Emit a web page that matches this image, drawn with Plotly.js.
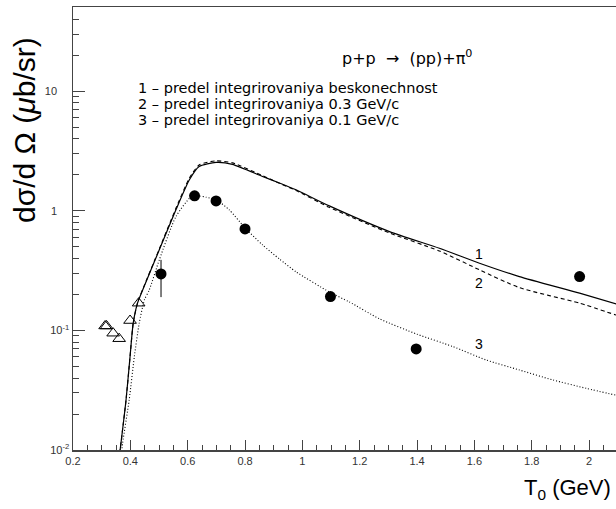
<!DOCTYPE html>
<html>
<head>
<meta charset="utf-8">
<script src="https://cdn.plot.ly/plotly-3.0.1.min.js"></script>
<style>
html,body{margin:0;padding:0;background:#fff;}
#chart{width:616px;height:509px;}
</style>
</head>
<body>
<div id="chart"></div>
<script>
// ---- data ----
// theory curves 1 and 2 share the T0 grid
const t12 = [0.360, 0.385, 0.399, 0.410, 0.425, 0.443, 0.501, 0.559, 0.606, 0.640, 0.699, 0.756, 0.861, 0.920, 0.978, 1.094, 1.304, 1.478, 1.618, 1.757, 1.967, 2.100];
const curve1 = [0.0082, 0.0262, 0.0604, 0.115, 0.169, 0.218, 0.472, 1.02, 1.82, 2.35, 2.54, 2.45, 1.94, 1.71, 1.50, 1.10, 0.671, 0.487, 0.365, 0.282, 0.205, 0.165];
const curve2 = [0.0082, 0.0262, 0.0604, 0.115, 0.170, 0.220, 0.480, 1.05, 1.88, 2.42, 2.62, 2.52, 1.97, 1.70, 1.48, 1.07, 0.653, 0.462, 0.321, 0.228, 0.169, 0.133];
const t3 = [0.366, 0.373, 0.396, 0.414, 0.431, 0.449, 0.466, 0.501, 0.559, 0.611, 0.640, 0.664, 0.699, 0.745, 0.800, 0.861, 0.920, 0.978, 1.094, 1.164, 1.269, 1.400, 1.525, 1.641, 1.757, 1.874, 1.990, 2.100];
const curve3 = [0.0082, 0.0114, 0.0262, 0.0604, 0.115, 0.180, 0.218, 0.389, 0.895, 1.30, 1.33, 1.30, 1.24, 1.02, 0.721, 0.519, 0.396, 0.309, 0.210, 0.173, 0.125, 0.093, 0.0733, 0.0566, 0.0467, 0.0385, 0.0328, 0.0285];

// experimental points: filled circles
const circT = [0.507, 0.624, 0.699, 0.800, 1.098, 1.397, 1.967];
const circV = [0.297, 1.335, 1.21, 0.706, 0.192, 0.070, 0.282];
const circErrUp = [0.092, 0, 0, 0, 0, 0, 0];
const circErrDn = [0.107, 0, 0, 0, 0, 0, 0];
// open triangles
const triT = [0.312, 0.317, 0.340, 0.361, 0.399, 0.429];
const triV = [0.109, 0.109, 0.0948, 0.0853, 0.121, 0.169];

// axis ticks / labels
const yMajorVals = [0.01, 0.1, 1, 10];
const yMajorText = ['10<sup>-2</sup>', '10<sup>-1</sup>', '1\u00a0\u00a0\u00a0\u00a0', '10\u00a0\u00a0\u00a0\u00a0'];
const curveLabels = ['1', '2', '3'];
const legendLines = [
  '1 \u2013 predel integrirovaniya beskonechnost',
  '2 \u2013 predel integrirovaniya 0.3 GeV/c',
  '3 \u2013 predel integrirovaniya 0.1 GeV/c'
];

// minor log tick positions (2..9 per decade)
const yMinorVals = [];
[0.01, 0.1, 1, 10].forEach(d => { for (let k = 2; k <= 9; k++) yMinorVals.push(d * k); });

const FONT = 'Liberation Sans, Arial, sans-serif';
const FONT2 = 'DejaVu Sans, Liberation Sans, sans-serif';
const AX = '#444';

const traces = [
  {x: t12, y: curve1, mode: 'lines', line: {color: '#000', width: 1.2, shape: 'spline', smoothing: 0.6}, hoverinfo: 'skip'},
  {x: t12, y: curve2, mode: 'lines', line: {color: '#000', width: 1.1, dash: '4px,3px', shape: 'spline', smoothing: 0.6}, hoverinfo: 'skip'},
  {x: t3, y: curve3, mode: 'lines', line: {color: '#000', width: 1.1, dash: '1px,2px', shape: 'spline', smoothing: 0.6}, hoverinfo: 'skip'},
  {x: triT, y: triV, mode: 'markers', marker: {symbol: 'triangle-up-open', size: 11, color: '#000', line: {width: 1, color: '#000'}}},
  {x: circT, y: circV, mode: 'markers', marker: {symbol: 'circle', size: 11, color: '#000'},
   error_y: {type: 'data', array: circErrUp, arrayminus: circErrDn, symmetric: false, width: 0, thickness: 1, color: '#000'}},
  {x: [], y: [], yaxis: 'y2', mode: 'markers', hoverinfo: 'skip'}
];

const W = 616, H = 509, L = 73, T = 7, B = 59;
const pw = W - L, ph = H - T - B;
const px = v => (v - L) / pw;          // pixel -> paper x
const py = v => (H - B - v) / ph;      // pixel -> paper y
const ann = (text, x, y, size, extra) => Object.assign({
  text: text, x: px(x), y: py(y), xref: 'paper', yref: 'paper', xanchor: 'center', yanchor: 'middle',
  showarrow: false, font: {family: FONT, size: size, color: '#000'}
}, extra || {});

const annotations = [
  ann('p+p  \u2192  (pp)+\u03c0<sup>0</sup>', 407, 58, 16, {font: {family: FONT2, size: 16, color: '#000'}}),
  ann('d\u03c3/d \u03a9 (<i>\u03bc</i>b/sr)', 24, 130, 30, {textangle: -90}),
  ann('T<sub>0</sub> (GeV)', 613, 489, 22, {xanchor: 'right'}),
  ann(curveLabels[0], 479, 254, 14),
  ann(curveLabels[1], 479, 283, 14),
  ann(curveLabels[2], 479, 344, 14)
];
legendLines.forEach((s, i) => annotations.push(
  ann(s, 136, 88 + 16 * i, 14, {xanchor: 'left', font: {family: FONT2, size: 14.5, color: '#000'}})
));

const layout = {
  width: W, height: H,
  margin: {l: L, r: 0, t: T, b: B, pad: 0},
  paper_bgcolor: '#fff', plot_bgcolor: '#fff',
  showlegend: false,
  font: {family: FONT, size: 11, color: '#222'},
  xaxis: {
    type: 'linear', range: [0.2, 2.094], tick0: 0.2, dtick: 0.2,
    ticks: 'inside', ticklen: 10, tickwidth: 1, tickcolor: AX,
    minor: {tick0: 0.2, dtick: 0.05, ticks: 'inside', ticklen: 5, tickwidth: 1, tickcolor: AX, showgrid: false},
    showline: true, linecolor: AX, linewidth: 1.5, mirror: true,
    showgrid: false, zeroline: false,
    tickfont: {family: FONT, size: 11, color: '#333'}
  },
  yaxis: {
    type: 'log', range: [-2, 1.705],
    tickmode: 'array', tickvals: yMajorVals, ticktext: yMajorText,
    ticks: 'inside', ticklen: 12, tickwidth: 1, tickcolor: AX,
    showline: true, linecolor: AX, linewidth: 1.5,
    showgrid: false, zeroline: false,
    tickfont: {family: FONT, size: 11, color: '#333'}
  },
  yaxis2: {
    type: 'log', range: [-2, 1.705], overlaying: 'y', side: 'left', anchor: 'x',
    tickmode: 'array', tickvals: yMinorVals, ticks: 'inside', ticklen: 6, tickwidth: 1, tickcolor: AX,
    showticklabels: false, showline: false, showgrid: false, zeroline: false
  },
  annotations: annotations
};

Plotly.newPlot('chart', traces, layout, {displayModeBar: false, staticPlot: true});
</script>
</body>
</html>
